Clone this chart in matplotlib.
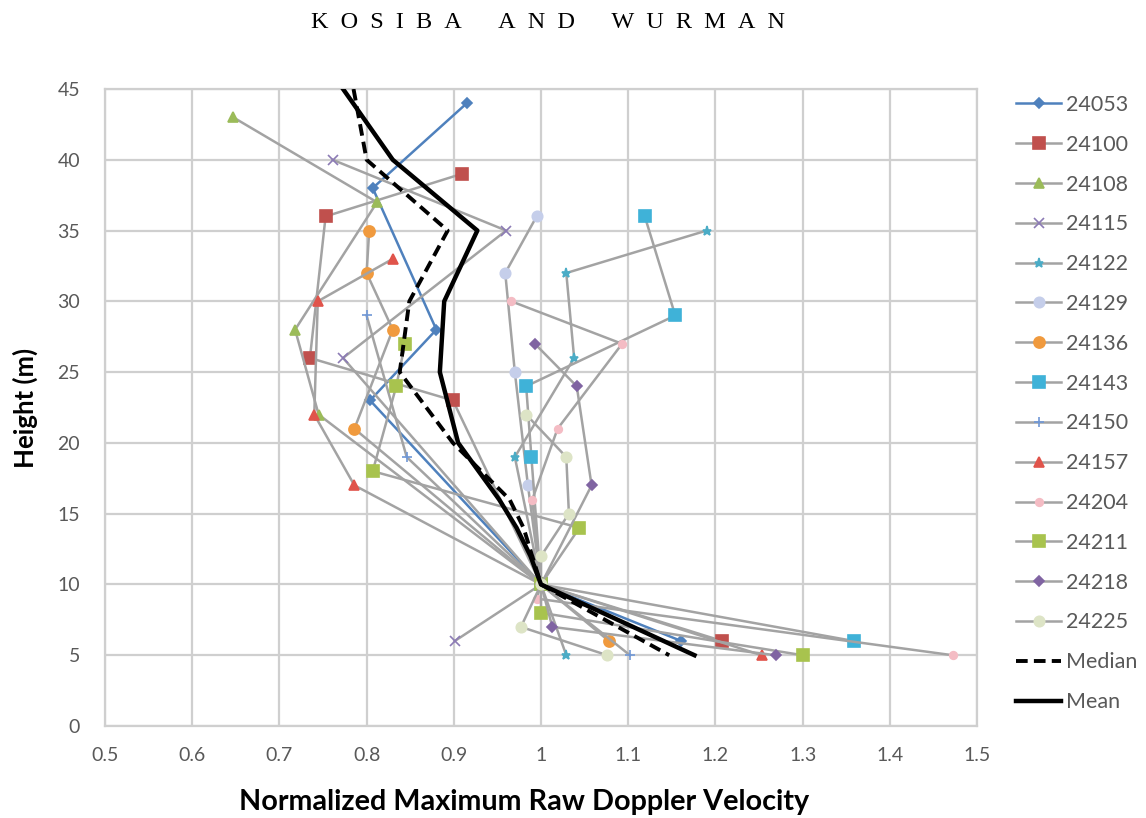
import matplotlib
matplotlib.use('Agg')
import matplotlib.pyplot as plt

# heights (m) and normalized velocity for each deployment
h_24053 = [44, 38, 28, 23, 10, 6]
v_24053 = [0.915, 0.807, 0.88, 0.804, 1.0, 1.161]
h_24100 = [39, 36, 26, 23, 10, 6]
v_24100 = [0.909, 0.753, 0.735, 0.899, 1.0, 1.208]
h_24108 = [43, 37, 28, 22, 10]
v_24108 = [0.647, 0.812, 0.718, 0.745, 1.0]
h_24115 = [40, 35, 26, 10, 6]
v_24115 = [0.761, 0.96, 0.773, 1.0, 0.901]
h_24122 = [35, 32, 26, 19, 10, 5]
v_24122 = [1.19, 1.029, 1.038, 0.97, 1.0, 1.029]
h_24129 = [36, 32, 25, 17, 10]
v_24129 = [0.995, 0.959, 0.97, 0.985, 1.0]
h_24136 = [35, 32, 28, 21, 10, 6]
v_24136 = [0.803, 0.8, 0.83, 0.786, 1.0, 1.078]
h_24143 = [36, 29, 24, 19, 10, 6]
v_24143 = [1.119, 1.154, 0.983, 0.989, 1.0, 1.359]
h_24150 = [29, 19, 10, 5]
v_24150 = [0.8, 0.846, 1.0, 1.102]
h_24157 = [33, 30, 22, 17, 10, 5]
v_24157 = [0.83, 0.744, 0.74, 0.786, 1.0, 1.253]
h_24204 = [30, 27, 21, 16, 10, 9, 5]
v_24204 = [0.966, 1.093, 1.019, 0.99, 1.0, 0.995, 1.472]
h_24211 = [27, 24, 18, 14, 10, 8, 5]
v_24211 = [0.844, 0.834, 0.807, 1.044, 1.0, 1.0, 1.3]
h_24218 = [27, 24, 17, 10, 7, 5]
v_24218 = [0.993, 1.041, 1.058, 1.0, 1.013, 1.269]
h_24225 = [22, 19, 15, 12, 10, 7, 5]
v_24225 = [0.983, 1.029, 1.032, 1.0, 1.0, 0.977, 1.076]

h_median = [45, 40, 35, 30, 25, 20, 16, 14, 10, 5]
v_median = [0.785, 0.80, 0.893, 0.849, 0.838, 0.899, 0.964, 0.98, 1.0, 1.147]
h_mean = [45, 40, 35, 30, 25, 20, 16, 14, 12, 10, 5]
v_mean = [0.773, 0.83, 0.927, 0.889, 0.884, 0.905, 0.952, 0.972, 0.988, 1.0, 1.176]

names = ['24053', '24100', '24108', '24115', '24122', '24129', '24136',
         '24143', '24150', '24157', '24204', '24211', '24218', '24225']
heights = [h_24053, h_24100, h_24108, h_24115, h_24122, h_24129, h_24136,
           h_24143, h_24150, h_24157, h_24204, h_24211, h_24218, h_24225]
values = [v_24053, v_24100, v_24108, v_24115, v_24122, v_24129, v_24136,
          v_24143, v_24150, v_24157, v_24204, v_24211, v_24218, v_24225]

# marker, marker colour, marker size
styles = [
    ('D', '#4F81BD', 5.5),
    ('s', '#C0504D', 8),
    ('^', '#9BBB59', 7.5),
    ('x', '#8C7BB5', 6.5),
    ('*', '#4BACC6', 6.5),
    ('o', '#C5CEEA', 7.5),
    ('o', '#F09A3E', 8),
    ('s', '#3FB2D8', 8),
    ('+', '#6F97D6', 6.5),
    ('^', '#E0544B', 7.5),
    ('o', '#F4BCC4', 5.5),
    ('s', '#A8C34E', 8),
    ('D', '#8064A2', 5.5),
    ('o', '#DDE4C6', 7.5),
]
gray = '#A3A3A3'
text_col = '#595959'

plt.rcParams['font.family'] = ['Lato', 'DejaVu Sans']

fig = plt.figure(figsize=(11.46, 8.18), dpi=100)
ax = fig.add_axes([105 / 1146, 1 - 726 / 818, 872 / 1146, 637 / 818])

for name, hs, vs, (mk, mc, ms) in zip(names, heights, values, styles):
    lc = '#4F81BD' if name == '24053' else gray
    ax.plot(vs, hs, color=lc, linewidth=1.8, marker=mk, markersize=ms,
            markerfacecolor=mc, markeredgecolor=mc, markeredgewidth=1.2,
            label=name, zorder=2)

ax.plot(v_median, h_median, color='black', linestyle=(0, (3, 1.6)),
        linewidth=2.8, label='Median', zorder=4)
ax.plot(v_mean, h_mean, color='black', linewidth=3.2, label='Mean', zorder=4)

ax.set_xlim(0.5, 1.5)
ax.set_ylim(0, 45)
ax.set_xticks([0.5, 0.6, 0.7, 0.8, 0.9, 1.0, 1.1, 1.2, 1.3, 1.4, 1.5])
ax.set_xticklabels(['0.5', '0.6', '0.7', '0.8', '0.9', '1', '1.1', '1.2',
                    '1.3', '1.4', '1.5'])
ax.set_yticks(range(0, 46, 5))
ax.grid(True, color='#CFCFCF', linewidth=1.6)
ax.set_axisbelow(True)
for sp in ax.spines.values():
    sp.set_color('#CFCFCF')
    sp.set_linewidth(1.6)
ax.tick_params(length=0, labelsize=14, labelcolor=text_col)
ax.tick_params(axis='x', pad=15)
ax.tick_params(axis='y', pad=18)

ax.set_ylabel('Height (m)', fontsize=18.5, fontweight='bold', labelpad=14)
fig.text(524 / 1146, 1 - 802 / 818, 'Normalized Maximum Raw Doppler Velocity',
         ha='center', va='center', fontsize=20.7, fontweight='bold')

sp_ = '\u2002'
title = (sp_ * 3).join(sp_.join(w) for w in ['KOSIBA', 'AND', 'WURMAN'])
fig.text(548 / 1146, 1 - 22 / 818, title, ha='center', va='center',
         fontsize=17.5, family=['Liberation Serif', 'DejaVu Serif'])

leg = ax.legend(loc='upper left', bbox_to_anchor=(1016 / 1146, 1 - 95 / 818),
                bbox_transform=fig.transFigure, frameon=False, fontsize=15.5,
                labelspacing=0.92, handlelength=2.1, handletextpad=0.2,
                borderpad=0, borderaxespad=0)
for t in leg.get_texts():
    t.set_color(text_col)

fig.savefig('out.png', dpi=100)
